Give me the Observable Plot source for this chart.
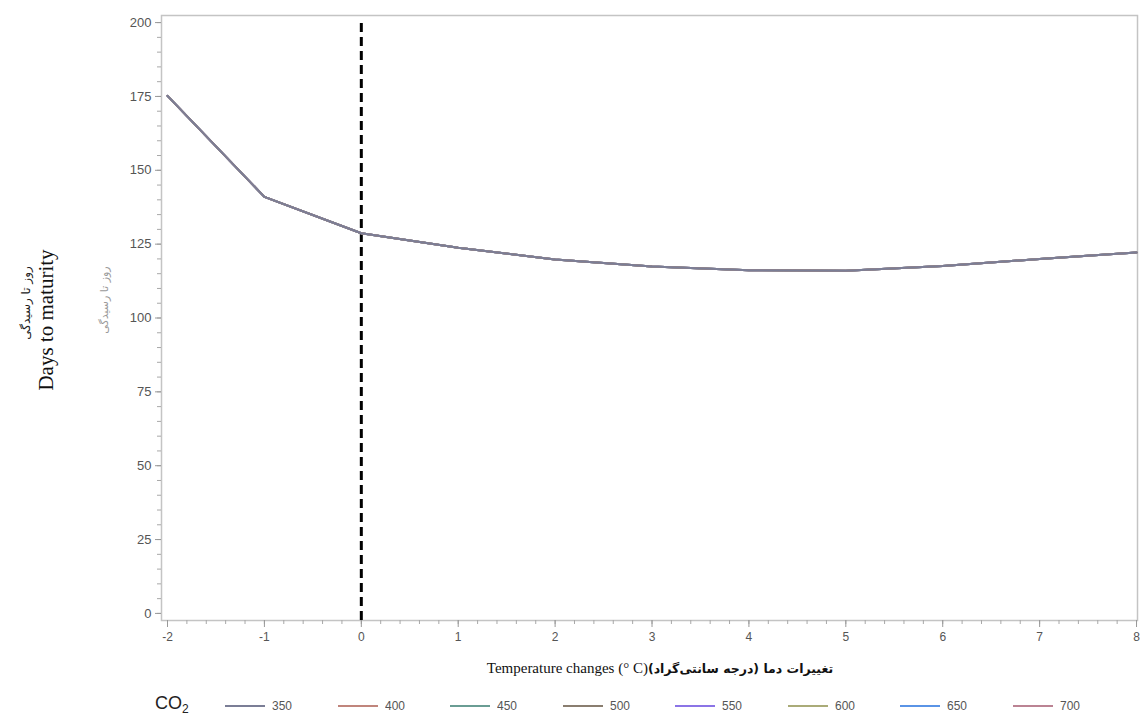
<!DOCTYPE html>
<html>
<head>
<meta charset="utf-8">
<script src="https://cdn.jsdelivr.net/npm/d3@7"></script>
<script src="https://cdn.jsdelivr.net/npm/@observablehq/plot@0.6"></script>
<style>
  html, body { margin: 0; padding: 0; background: #fff; }
  #wrap { position: relative; width: 1140px; height: 716px; overflow: hidden; }
  #chart { position: absolute; left: 0; top: 0; }
  .ylab { position: absolute; transform: translate(-50%, -50%) rotate(-90deg); white-space: nowrap; }
  #xlab { position: absolute; top: 660px; left: 0; width: 1140px; display: flex; justify-content: center; align-items: baseline; padding-left: 180px; box-sizing: border-box; }
  #legend { position: absolute; top: 695px; left: 155px; height: 22px; font-family: "Liberation Sans", Arial, sans-serif; }
  .item { display: flex; align-items: center; position: absolute; top: 3px; }
  .item .sw { width: 40px; height: 2px; margin-right: 7px; }
  .item span { font-size: 13px; color: #555; transform: scaleX(0.92); transform-origin: left; display: inline-block; }
</style>
</head>
<body>
<div id="wrap">
  <div id="chart"></div>
  <div class="ylab" style="left:26px; top:303px; font-family:'DejaVu Sans', sans-serif; font-size:12px; color:#222;" dir="rtl">روز تا رسیدگی</div>
  <div class="ylab" style="left:46px; top:320px; font-family:'Liberation Serif', 'Times New Roman', serif; font-size:21px; color:#111;">Days to maturity</div>
  <div class="ylab" style="left:104px; top:300px; font-family:'DejaVu Sans', sans-serif; font-size:11px; color:#9a9a9a;" dir="rtl">روز تا رسیدگی</div>
  <div id="xlab">
    <span style="font-family:'Liberation Serif','Times New Roman',serif; font-size:15px; color:#111;">Temperature changes (° C)</span><span dir="rtl" style="font-family:'DejaVu Sans',sans-serif; font-weight:bold; font-size:12.5px; color:#111;">تغییرات دما (درجه سانتی‌گراد)</span>
  </div>
  <div id="legend"></div>
</div>
<script>
// ---- data ----
const temps = [-2, -1, 0, 1, 2, 3, 4, 5, 6, 7, 8];
const days  = [175.2, 141.0, 128.7, 123.8, 119.8, 117.4, 116.2, 116.0, 117.6, 120.0, 122.2];
const co2Levels = ["350", "400", "450", "500", "550", "600", "650", "700"];
const co2Colors = ["#7b7e96", "#c0857c", "#6a9d94", "#8a7e70", "#8b74e6", "#aaab78", "#5a94e6", "#bb8393"];
const yTicks = [0, 25, 50, 75, 100, 125, 150, 175, 200];
const xTicks = [-2, -1, 0, 1, 2, 3, 4, 5, 6, 7, 8];
const refTemp = [0];

// every CO2 series shares the same curve (lines overlap completely)
const table = [];
for (const s of co2Levels.slice().reverse()) {
  temps.forEach((t, i) => table.push({series: s, temp: t, days: days[i]}));
}

const xMinor = d3.range(-2, 8.0001, 0.2).map(v => +v.toFixed(2));
const yMinor = d3.range(0, 200.0001, 5);

const chart = Plot.plot({
  width: 1140,
  height: 650,
  marginLeft: 161,
  marginRight: 3,
  marginTop: 15,
  marginBottom: 30,
  style: {fontFamily: "'Liberation Sans', Arial, sans-serif", background: "#fff"},
  x: {domain: [-2.062, 8.01]},
  y: {domain: [-2.4, 202.4]},
  color: {domain: co2Levels, range: co2Colors},
  marks: [
    Plot.frame({stroke: "#c4c4c4", strokeWidth: 1.5}),
    Plot.axisY(yMinor, {tickSize: 4, tickFormat: () => "", stroke: "#a8a8a8", label: null}),
    Plot.axisY(yTicks, {tickSize: 6, tickPadding: 4, fontSize: 13, fill: "#555", stroke: "#999", label: null, line: true, tickFormat: d => String(d)}),
    Plot.axisX(xMinor, {tickSize: 4, tickFormat: () => "", stroke: "#a8a8a8", label: null}),
    Plot.axisX(xTicks, {tickSize: 7, tickPadding: 5, fontSize: 12, fill: "#555", stroke: "#999", label: null, line: true, tickFormat: d => String(d)}),
    Plot.ruleX(refTemp, {y1: -2.4, y2: 200, stroke: "#000", strokeWidth: 3, strokeDasharray: "9,5"}),
    Plot.line(table, {x: "temp", y: "days", z: "series", stroke: "series", strokeWidth: 2})
  ]
});
document.getElementById("chart").appendChild(chart);

// legend
const legend = document.getElementById("legend");
const co = document.createElement("div");
co.style.cssText = "position:absolute; left:0; top:-2px; font-size:18px; line-height:20px; color:#222; white-space:nowrap;";
co.innerHTML = "CO<span style='font-size:12px; position:relative; top:4px'>2</span>";
legend.appendChild(co);
co2Levels.forEach((s, i) => {
  const it = document.createElement("div");
  it.className = "item";
  it.style.left = (70 + i * 112.5) + "px";
  it.innerHTML = `<div class="sw" style="background:${co2Colors[i]}"></div><span>${s}</span>`;
  legend.appendChild(it);
});
</script>
</body>
</html>
